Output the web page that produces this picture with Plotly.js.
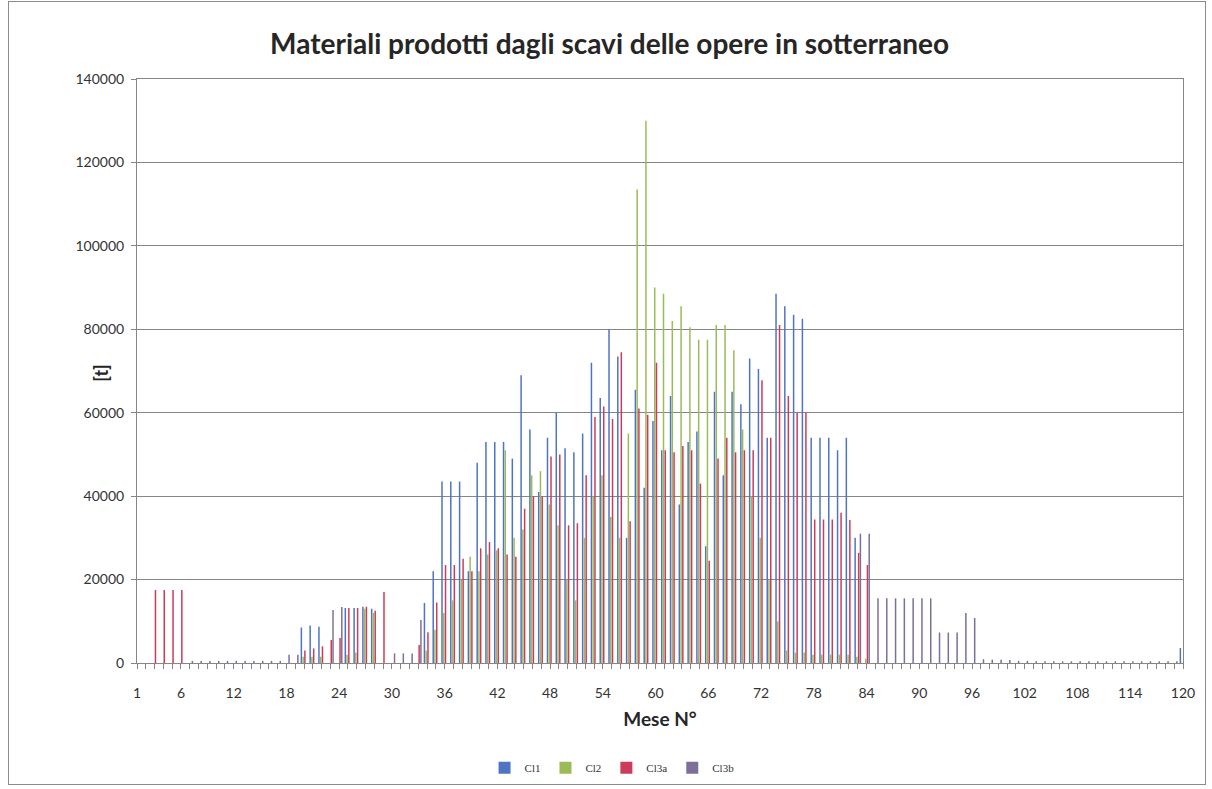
<!DOCTYPE html>
<html>
<head>
<meta charset="utf-8">
<script src="https://cdn.plot.ly/plotly-3.0.1.min.js"></script>
<style>
  html, body { margin: 0; padding: 0; background: #ffffff; }
  #frame { position: absolute; left: 8px; top: 1px; width: 1198px; height: 784px; border: 1px solid #8c8c8c; box-sizing: border-box; }
  #chart { position: absolute; left: 0; top: 0; width: 1212px; height: 789px; }
</style>
</head>
<body>
<div id="frame"></div>
<div id="chart"></div>
<script>
// Months 1..120 of the excavation programme
const months = Array.from({ length: 120 }, (_, i) => i + 1);

// Tonnes of excavated material per month, by class
const cl1 = [
  0, 0, 0, 0, 0, 0, 0, 0, 0, 0,
  0, 0, 0, 0, 0, 0, 0, 0, 0, 8500,
  9000, 8700, 0, 0, 13200, 13200, 13500, 13000, 0, 0,
  0, 0, 0, 14400, 22000, 43500, 43500, 43500, 22000, 48000,
  53000, 53000, 53000, 49000, 69000, 56000, 41000, 54000, 60000, 51500,
  50500, 55000, 72000, 63500, 80000, 73500, 30000, 65500, 42000, 58000,
  51000, 64000, 38000, 53000, 55500, 28000, 65000, 45000, 65000, 62000,
  73000, 70500, 54000, 88500, 85500, 83500, 82500, 54000, 54000, 54000,
  51000, 54000, 30000, 0, 0, 0, 0, 0, 0, 0,
  0, 0, 0, 0, 0, 0, 0, 0, 0, 0,
  0, 0, 0, 0, 0, 0, 0, 0, 0, 0,
  0, 0, 0, 0, 0, 0, 0, 0, 0, 3600
];

const cl2 = [
  0, 0, 0, 0, 0, 0, 0, 0, 0, 0,
  0, 0, 0, 0, 0, 0, 0, 0, 0, 1500,
  1500, 1500, 0, 0, 2000, 2500, 13000, 12000, 0, 0,
  0, 0, 0, 3000, 8000, 12000, 15000, 20000, 25500, 22000,
  26000, 27000, 51000, 30000, 32000, 45000, 46000, 38000, 33000, 20000,
  15000, 30000, 40000, 45000, 35000, 30000, 55000, 113500, 130000, 90000,
  88500, 82000, 85500, 80500, 77500, 77500, 81000, 81000, 75000, 56000,
  40000, 30000, 20000, 10000, 3000, 2500, 2500, 2000, 2000, 2000,
  2000, 2000, 1500, 1000, 0, 0, 0, 0, 0, 0,
  0, 0, 0, 0, 0, 0, 0, 0, 0, 0,
  0, 0, 0, 0, 0, 0, 0, 0, 0, 0,
  0, 0, 0, 0, 0, 0, 0, 0, 0, 0
];

const cl3a = [
  0, 0, 17500, 17500, 17500, 17500, 0, 0, 0, 0,
  0, 0, 0, 0, 0, 0, 0, 0, 0, 3000,
  3500, 4000, 5500, 6000, 13200, 13200, 13500, 12500, 17000, 0,
  0, 0, 4300, 7400, 14500, 23500, 23500, 25000, 22000, 27500,
  29000, 27500, 26000, 25500, 37000, 40000, 40000, 49500, 50000, 33000,
  33500, 45000, 59000, 61500, 58500, 74500, 34000, 61000, 59500, 72000,
  51000, 50500, 52000, 51000, 43000, 24500, 49000, 54000, 50500, 51000,
  51000, 67800, 54000, 81000, 64000, 60000, 60000, 34400, 34400, 34400,
  36000, 34300, 26400, 23500, 0, 0, 0, 0, 0, 0,
  0, 0, 0, 0, 0, 0, 0, 0, 0, 0,
  0, 0, 0, 0, 0, 0, 0, 0, 0, 0,
  0, 0, 0, 0, 0, 0, 0, 0, 0, 0
];

const cl3b = [
  0, 0, 0, 0, 0, 0, 500, 500, 500, 500,
  500, 500, 500, 500, 500, 500, 500, 2000, 2000, 0,
  0, 0, 12700, 13400, 0, 0, 0, 0, 0, 2300,
  2300, 2300, 10300, 0, 0, 0, 0, 0, 0, 0,
  0, 0, 0, 0, 0, 0, 0, 0, 0, 0,
  0, 0, 0, 0, 0, 0, 0, 0, 0, 0,
  0, 0, 0, 0, 0, 0, 0, 0, 0, 0,
  0, 0, 0, 0, 0, 0, 0, 0, 0, 0,
  0, 0, 31000, 31000, 15500, 15500, 15500, 15500, 15500, 15500,
  15500, 7300, 7300, 7300, 12000, 10800, 900, 800, 800, 700,
  500, 500, 400, 400, 400, 400, 400, 400, 400, 400,
  400, 400, 400, 400, 400, 400, 400, 400, 400, 0
];

// Labelled months on the category axis
const tickMonths = [1, 6, 12, 18, 24, 30, 36, 42, 48, 54, 60, 66, 72, 78, 84, 90, 96, 102, 108, 114, 120];

const seriesNames = ['Cl1', 'Cl2', 'Cl3a', 'Cl3b'];
const seriesValues = [cl1, cl2, cl3a, cl3b];
const seriesColors = ['#4f74c4', '#9bbb59', '#cc3b5a', '#7d6f9a'];

const traces = seriesNames.map((name, k) => ({
  type: 'bar',
  name: name,
  x: months,
  y: seriesValues[k],
  marker: { color: seriesColors[k], line: { width: 0 } },
  hoverinfo: 'x+y+name'
}));

const axisGrey = '#868686';
const textFont = 'Lato, "Liberation Sans", sans-serif';

const layout = {
  width: 1212,
  height: 789,
  paper_bgcolor: 'rgba(0,0,0,0)',
  plot_bgcolor: '#ffffff',
  margin: { l: 137, r: 29, t: 79, b: 126, pad: 0, autoexpand: false },
  barmode: 'group',
  bargap: 0.2,
  bargroupgap: 0.15,
  font: { family: textFont, color: '#333333', size: 14 },
  title: {
    text: '<b>Materiali prodotti dagli scavi delle opere in sotterraneo</b>',
    font: { family: textFont, size: 28, color: '#262626' },
    x: 0.503, xanchor: 'center',
    y: 0.944, yanchor: 'middle'
  },
  xaxis: {
    type: 'linear',
    range: [1, 120],
    automargin: false,
    tickmode: 'array',
    tickvals: tickMonths,
    ticktext: tickMonths.map(String),
    ticks: 'outside',
    ticklen: 5,
    tickcolor: axisGrey,
    ticklabelstandoff: 12,
    tickfont: { family: textFont, size: 14, color: '#333333' },
    minor: { dtick: 1, tick0: 1, ticks: 'outside', ticklen: 5, tickcolor: axisGrey, showgrid: false },
    showgrid: false,
    zeroline: false,
    showline: true,
    linecolor: axisGrey,
    linewidth: 1,
    mirror: true,
    title: {
      text: '<b>Mese N°</b>',
      font: { family: textFont, size: 19, color: '#262626' },
      standoff: 12
    },
    fixedrange: true
  },
  yaxis: {
    range: [0, 140000],
    automargin: false,
    dtick: 20000,
    tickformat: 'd',
    ticks: 'outside',
    ticklen: 5,
    tickcolor: axisGrey,
    ticklabelstandoff: 4,
    tickfont: { family: textFont, size: 14, color: '#333333' },
    showgrid: true,
    gridcolor: axisGrey,
    gridwidth: 1,
    zeroline: false,
    showline: true,
    linecolor: axisGrey,
    linewidth: 1,
    mirror: true,
    fixedrange: true
  },
  annotations: [{
    text: '<b>[t]</b>',
    xref: 'paper', yref: 'paper',
    x: -0.0344, y: 0.497,
    xanchor: 'center', yanchor: 'middle',
    textangle: -90,
    showarrow: false,
    font: { family: textFont, size: 18, color: '#262626' }
  }],
  legend: {
    orientation: 'h',
    xref: 'container', yref: 'container',
    x: 0.505, xanchor: 'center',
    y: 0.027, yanchor: 'middle',
    font: { family: '"Liberation Serif", serif', size: 11, color: '#333333' },
    itemwidth: 30,
    bgcolor: 'rgba(0,0,0,0)',
    traceorder: 'normal'
  },
  showlegend: true
};

Plotly.newPlot('chart', traces, layout, { displayModeBar: false, staticPlot: true });
</script>
</body>
</html>
